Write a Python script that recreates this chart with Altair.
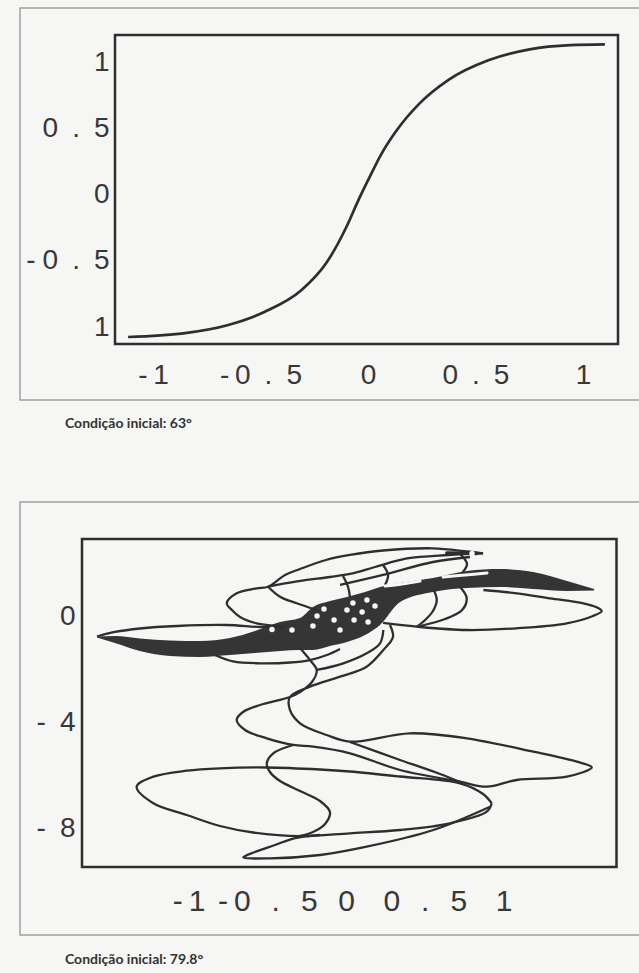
import altair as alt
import pandas as pd

INK = "#2e2e2e"
PAPER = "#f6f6f4"
FRAME_GREY = "#a0a0a0"
EN, TH, QU = "\u2002", "\u2009", "\u2005"

# ---------------- upper panel: smooth response curve ----------------
sig_x = [-1.116, -0.859, -0.650, -0.480, -0.309, -0.195, -0.100, -0.044, 0.004,
         0.060, 0.127, 0.240, 0.373, 0.563, 0.752, 0.942, 1.102]
sig_y = [-1.075, -1.048, -0.985, -0.885, -0.721, -0.519, -0.243, -0.040, 0.120,
         0.300, 0.470, 0.688, 0.864, 1.015, 1.096, 1.128, 1.134]
top_x_domain = [-1.177, 1.163]
top_y_domain = [-1.128, 1.204]
top_ticks = [-1, -0.5, 0, 0.5, 1]
top_caption = "Condição inicial: 63°"

# ---------------- lower panel: tangled trajectory ----------------
bottom_x_domain = [-1.676, 1.717]
bottom_y_domain = [-9.434, 2.943]
bottom_x_ticks = [-1, -0.5, 0, 0.5, 1]
bottom_y_ticks = [0, -4, -8]
bottom_caption = "Condição inicial: 79.8°"

# dense band where the orbit piles up
band_x = [-1.581, -1.467, -1.308, -1.117, -0.927, -0.737, -0.578, -0.419, -0.292, -0.210,
          -0.102, 0.006, 0.121, 0.216, 0.343, 0.552, 0.768, 0.978, 1.187, 1.403, 1.575]
band_hi = [-0.736, -0.717, -0.811, -0.887, -0.906, -0.792, -0.528, -0.189, -0.038, 0.377,
           0.604, 0.755, 0.943, 1.132, 1.283, 1.472, 1.736, 1.811, 1.698, 1.358, 1.057]
band_lo = [-0.774, -0.981, -1.283, -1.472, -1.509, -1.434, -1.358, -1.283, -1.245, -1.245,
           -1.094, -0.943, -0.679, -0.302, 0.566, 0.943, 1.094, 1.132, 1.057, 0.981, 1.000]

# gaps left open inside the band
hole_x = [-0.470, -0.343, -0.210, -0.184, -0.140, -0.076, -0.038, 0.006, 0.044, 0.051,
          0.102, 0.133, 0.140, 0.184]
hole_y = [-0.472, -0.491, -0.340, 0.038, 0.302, -0.113, -0.491, 0.264, 0.528, -0.113,
          0.189, 0.642, -0.189, 0.415]
lens_a_x = [0.248, 0.356, 0.470]
lens_a_y = [1.170, 1.245, 1.358]
lens_b_x = [0.616, 0.756, 0.895]
lens_b_y = [1.509, 1.585, 1.660]
tip_spot_x = [0.800]
tip_spot_y = [2.400]

# individual passes of the orbit
lens_top_x = [-1.581, -1.467, -1.308, -1.073, -0.756, -0.546, -0.387]
lens_top_y = [-0.736, -0.566, -0.434, -0.340, -0.302, -0.377, -0.377]
lens_bottom_x = [-0.832, -0.717, -0.546, -0.356, -0.229, -0.121, -0.038]
lens_bottom_y = [-1.434, -1.679, -1.747, -1.717, -1.623, -1.434, -1.208]
lower_arc_x = [-0.186, -0.017, 0.131, 0.216, 0.237]
lower_arc_y = [-2.000, -1.747, -1.370, -0.992, -0.491]
outer_arc_x = [-0.419, -0.567, -0.673, -0.724, -0.757, -0.694, -0.567, -0.495, -0.387,
               -0.292, -0.127, 0.025, 0.235, 0.552, 0.768, 0.870]
outer_arc_y = [-0.340, -0.238, 0.000, 0.264, 0.517, 0.894, 1.083, 1.143, 1.585,
               1.811, 2.151, 2.340, 2.509, 2.592, 2.472, 2.404]
inner_arc_x = [-0.495, -0.311, -0.102, 0.025, 0.184, 0.387, 0.648, 0.870]
inner_arc_y = [1.143, 1.340, 1.509, 1.623, 1.887, 2.208, 2.340, 2.404]
third_arc_x = [-0.038, 0.235, 0.552, 0.787]
third_arc_y = [1.208, 1.585, 2.075, 2.264]
tip_x = [0.640, 0.740, 0.830]
tip_y = [2.415, 2.410, 2.398]
inner_drop_x = [-0.495, -0.419, -0.313, -0.186]
inner_drop_y = [1.143, 0.766, 0.517, 0.264]
mid_drop_x = [-0.019, 0.013, 0.025]
mid_drop_y = [1.547, 1.132, 0.755]
link_a_x = [0.235, 0.267, 0.248]
link_a_y = [1.962, 1.585, 1.208]
link_b_x = [0.724, 0.768, 0.737]
link_b_y = [2.380, 2.000, 1.660]
right_loop_x = [0.235, 0.449, 0.766, 1.084, 1.401, 1.568, 1.623, 1.587, 1.507, 1.295,
                1.084, 0.872]
right_loop_y = [-0.226, -0.366, -0.491, -0.426, -0.238, 0.038, 0.226, 0.377, 0.517,
                0.706, 0.894, 1.019]
right_arc_a_x = [0.554, 0.576, 0.552, 0.502, 0.449]
right_arc_a_y = [1.057, 0.642, 0.226, -0.113, -0.366]
right_arc_b_x = [0.724, 0.766, 0.737, 0.629, 0.470]
right_arc_b_y = [1.132, 0.717, 0.264, -0.075, -0.340]
s_path_x = [-0.292, -0.229, -0.186, -0.216, -0.292, -0.356, -0.546, -0.654, -0.694,
            -0.641, -0.503, -0.335, -0.208, 0.025, 0.343, 0.724, 0.893, 1.084, 1.401,
            1.560, 1.465, 1.189, 0.766, 0.406, 0.025, -0.123, -0.292, -0.356, -0.356,
            -0.229, -0.038, 0.131, 0.237, 0.298, 0.279]
s_path_y = [-1.170, -1.623, -2.000, -2.453, -2.830, -3.019, -3.321, -3.585, -3.887,
            -4.264, -4.577, -4.830, -4.894, -5.143, -5.774, -6.215, -6.404, -6.151,
            -6.026, -5.672, -5.460, -5.083, -4.577, -4.389, -4.706, -4.453, -4.011,
            -3.509, -3.019, -2.630, -2.253, -1.875, -1.245, -0.755, -0.302]
cross_x = [0.025, 0.343, 0.597, 0.724]
cross_y = [-4.717, -5.396, -5.925, -6.226]
big_loop_x = [0.925, 0.870, 0.724, 0.343, 0.025, -0.165, -0.503, -0.800, -1.011, -1.223,
              -1.329, -1.223, -1.011, -0.800, -0.589, -0.292, 0.025, 0.343, 0.660, 0.893,
              0.925]
big_loop_y = [-7.030, -6.679, -6.275, -6.019, -5.830, -5.755, -5.679, -5.709, -5.800,
              -6.026, -6.404, -7.030, -7.472, -7.887, -8.132, -8.272, -8.162, -8.038,
              -7.785, -7.347, -7.030]
bottom_loop_x = [0.914, 0.554, 0.131, -0.165, -0.483, -0.652, -0.578, -0.451, -0.324, -0.165]
bottom_loop_y = [-7.158, -8.038, -8.668, -8.981, -9.106, -9.068, -8.868, -8.604, -8.340, -8.226]
small_loop_x = [-0.335, -0.462, -0.503, -0.483, -0.419, -0.292, -0.165, -0.102, -0.133,
                -0.210, -0.292]
small_loop_y = [-4.830, -5.143, -5.521, -5.849, -6.189, -6.566, -6.943, -7.358, -7.811,
                -8.113, -8.264]

passes = {
    "lens_top": (lens_top_x, lens_top_y),
    "lens_bottom": (lens_bottom_x, lens_bottom_y),
    "lower_arc": (lower_arc_x, lower_arc_y),
    "outer_arc": (outer_arc_x, outer_arc_y),
    "inner_arc": (inner_arc_x, inner_arc_y),
    "third_arc": (third_arc_x, third_arc_y),
    "inner_drop": (inner_drop_x, inner_drop_y),
    "mid_drop": (mid_drop_x, mid_drop_y),
    "link_a": (link_a_x, link_a_y),
    "link_b": (link_b_x, link_b_y),
    "right_loop": (right_loop_x, right_loop_y),
    "right_arc_a": (right_arc_a_x, right_arc_a_y),
    "right_arc_b": (right_arc_b_x, right_arc_b_y),
    "s_path": (s_path_x, s_path_y),
    "cross": (cross_x, cross_y),
    "big_loop": (big_loop_x, big_loop_y),
    "bottom_loop": (bottom_loop_x, bottom_loop_y),
    "small_loop": (small_loop_x, small_loop_y),
}


def polyline_table(named):
    rows = []
    for name, (xs, ys) in named.items():
        for i, (a, b) in enumerate(zip(xs, ys)):
            rows.append({"pass": name, "i": i, "x": a, "y": b})
    return pd.DataFrame(rows)


orbit_df = polyline_table(passes)
lens_df = polyline_table({"a": (lens_a_x, lens_a_y), "b": (lens_b_x, lens_b_y)})
tip_df = polyline_table({"tip": (tip_x, tip_y)})
band_df = pd.DataFrame({"x": band_x, "hi": band_hi, "lo": band_lo})
hole_df = pd.DataFrame({"x": hole_x + tip_spot_x, "y": hole_y + tip_spot_y})
sig_df = pd.DataFrame({"x": sig_x, "y": sig_y})

LABEL_FONT = "Liberation Sans"


def spaced(minus_gap, dot_gap, special=""):
    return (special + "(datum.value < 0 ? '-" + minus_gap + "' : '') + "
            "replace(toString(abs(datum.value)), '.', '" + dot_gap + "." + dot_gap + "')")


def axis(orient, offset, values, expr, padding, size=28):
    return alt.Axis(orient=orient, offset=offset, values=values, labelExpr=expr,
                    ticks=False, domain=False, grid=False, title=None,
                    labelFont=LABEL_FONT, labelFontSize=size, labelColor="#383838",
                    labelPadding=padding, labelOverlap=False, labelFlush=False)


# upper panel scales and axes
tx = alt.Scale(domain=top_x_domain, range=[115, 618], nice=False, zero=False)
ty = alt.Scale(domain=top_y_domain, range=[344, 35], nice=False, zero=False)
top_xaxis = axis("bottom", -629, top_ticks, spaced(TH, EN), 17)
top_yaxis = axis("left", -115, top_ticks, spaced(QU, EN, "datum.value == -1 ? '1' : "), 6)

top_frame = alt.Chart(pd.DataFrame({"x0": [top_x_domain[0]], "x1": [top_x_domain[1]],
                                    "y0": [top_y_domain[0]], "y1": [top_y_domain[1]]})).mark_rect(
    fill="transparent", stroke=INK, strokeWidth=2.5
).encode(
    x=alt.X("x0:Q", scale=tx, axis=top_xaxis), x2="x1",
    y=alt.Y("y0:Q", scale=ty, axis=top_yaxis), y2="y1",
)
top_curve = alt.Chart(sig_df).mark_line(
    interpolate="monotone", color=INK, strokeWidth=2.7
).encode(
    x=alt.X("x:Q", scale=tx, axis=top_xaxis),
    y=alt.Y("y:Q", scale=ty, axis=top_yaxis),
    order="x:Q",
)
top_panel = alt.layer(top_frame, top_curve)

# lower panel scales and axes
bx = alt.Scale(domain=bottom_x_domain, range=[82, 616.5], nice=False, zero=False)
by = alt.Scale(domain=bottom_y_domain, range=[867, 539], nice=False, zero=False)
bot_xaxis = axis("bottom", -106, bottom_x_ticks, spaced(TH, EN + TH), 19, 30)
bot_yaxis = axis("left", -82, bottom_y_ticks, spaced(EN, EN), 7)

bot_frame = alt.Chart(pd.DataFrame({"x0": [bottom_x_domain[0]], "x1": [bottom_x_domain[1]],
                                    "y0": [bottom_y_domain[0]], "y1": [bottom_y_domain[1]]})).mark_rect(
    fill="transparent", stroke=INK, strokeWidth=2.5
).encode(
    x=alt.X("x0:Q", scale=bx, axis=bot_xaxis), x2="x1",
    y=alt.Y("y0:Q", scale=by, axis=bot_yaxis), y2="y1",
)
band = alt.Chart(band_df).mark_area(
    interpolate="monotone", orient="vertical", color="#353535"
).encode(
    x=alt.X("x:Q", scale=bx, axis=bot_xaxis),
    y=alt.Y("lo:Q", scale=by, axis=bot_yaxis),
    y2="hi:Q",
)
orbit = alt.Chart(orbit_df).mark_line(
    interpolate="catmull-rom", color=INK, strokeWidth=2.3
).encode(
    x=alt.X("x:Q", scale=bx, axis=bot_xaxis),
    y=alt.Y("y:Q", scale=by, axis=bot_yaxis),
    detail="pass:N",
    order="i:Q",
)
tip = alt.Chart(tip_df).mark_line(color=INK, strokeWidth=3.5, strokeCap="round").encode(
    x=alt.X("x:Q", scale=bx, axis=bot_xaxis),
    y=alt.Y("y:Q", scale=by, axis=bot_yaxis),
    order="i:Q",
)
lenses = alt.Chart(lens_df).mark_line(
    interpolate="catmull-rom", color=PAPER, strokeWidth=3, strokeCap="round"
).encode(
    x=alt.X("x:Q", scale=bx, axis=bot_xaxis),
    y=alt.Y("y:Q", scale=by, axis=bot_yaxis),
    detail="pass:N",
    order="i:Q",
)
holes = alt.Chart(hole_df).mark_circle(size=30, color=PAPER, opacity=1).encode(
    x=alt.X("x:Q", scale=bx, axis=bot_xaxis),
    y=alt.Y("y:Q", scale=by, axis=bot_yaxis),
)
bottom_panel = alt.layer(bot_frame, band, orbit, tip, lenses, holes)

# light outer boxes and captions
one = pd.DataFrame({"k": [0]})
outer_top = alt.Chart(one).mark_rect(fill="transparent", stroke=FRAME_GREY, strokeWidth=1.5).encode(
    x=alt.value(20), x2=alt.value(660), y=alt.value(8), y2=alt.value(400))
outer_bot = alt.Chart(one).mark_rect(fill="transparent", stroke=FRAME_GREY, strokeWidth=1.5).encode(
    x=alt.value(20), x2=alt.value(660), y=alt.value(502), y2=alt.value(935))
cap_style = dict(align="left", baseline="middle", font="Lato", fontSize=14,
                 fontWeight="bold", color="#333333")
cap_top = alt.Chart(one).mark_text(**cap_style).encode(
    x=alt.value(65), y=alt.value(424), text=alt.value(top_caption))
cap_bot = alt.Chart(one).mark_text(**cap_style).encode(
    x=alt.value(65), y=alt.value(960), text=alt.value(bottom_caption))

chart = alt.layer(
    outer_top, outer_bot, top_panel, bottom_panel, cap_top, cap_bot
).resolve_scale(
    x="independent", y="independent"
).resolve_axis(
    x="independent", y="independent"
).properties(
    width=639, height=973,
    autosize=alt.AutoSizeParams(type="none"),
    padding=0,
).configure(
    background=PAPER,
).configure_view(
    stroke=None,
)

chart.save("out.html", embed_options={"renderer": "svg", "actions": False})
